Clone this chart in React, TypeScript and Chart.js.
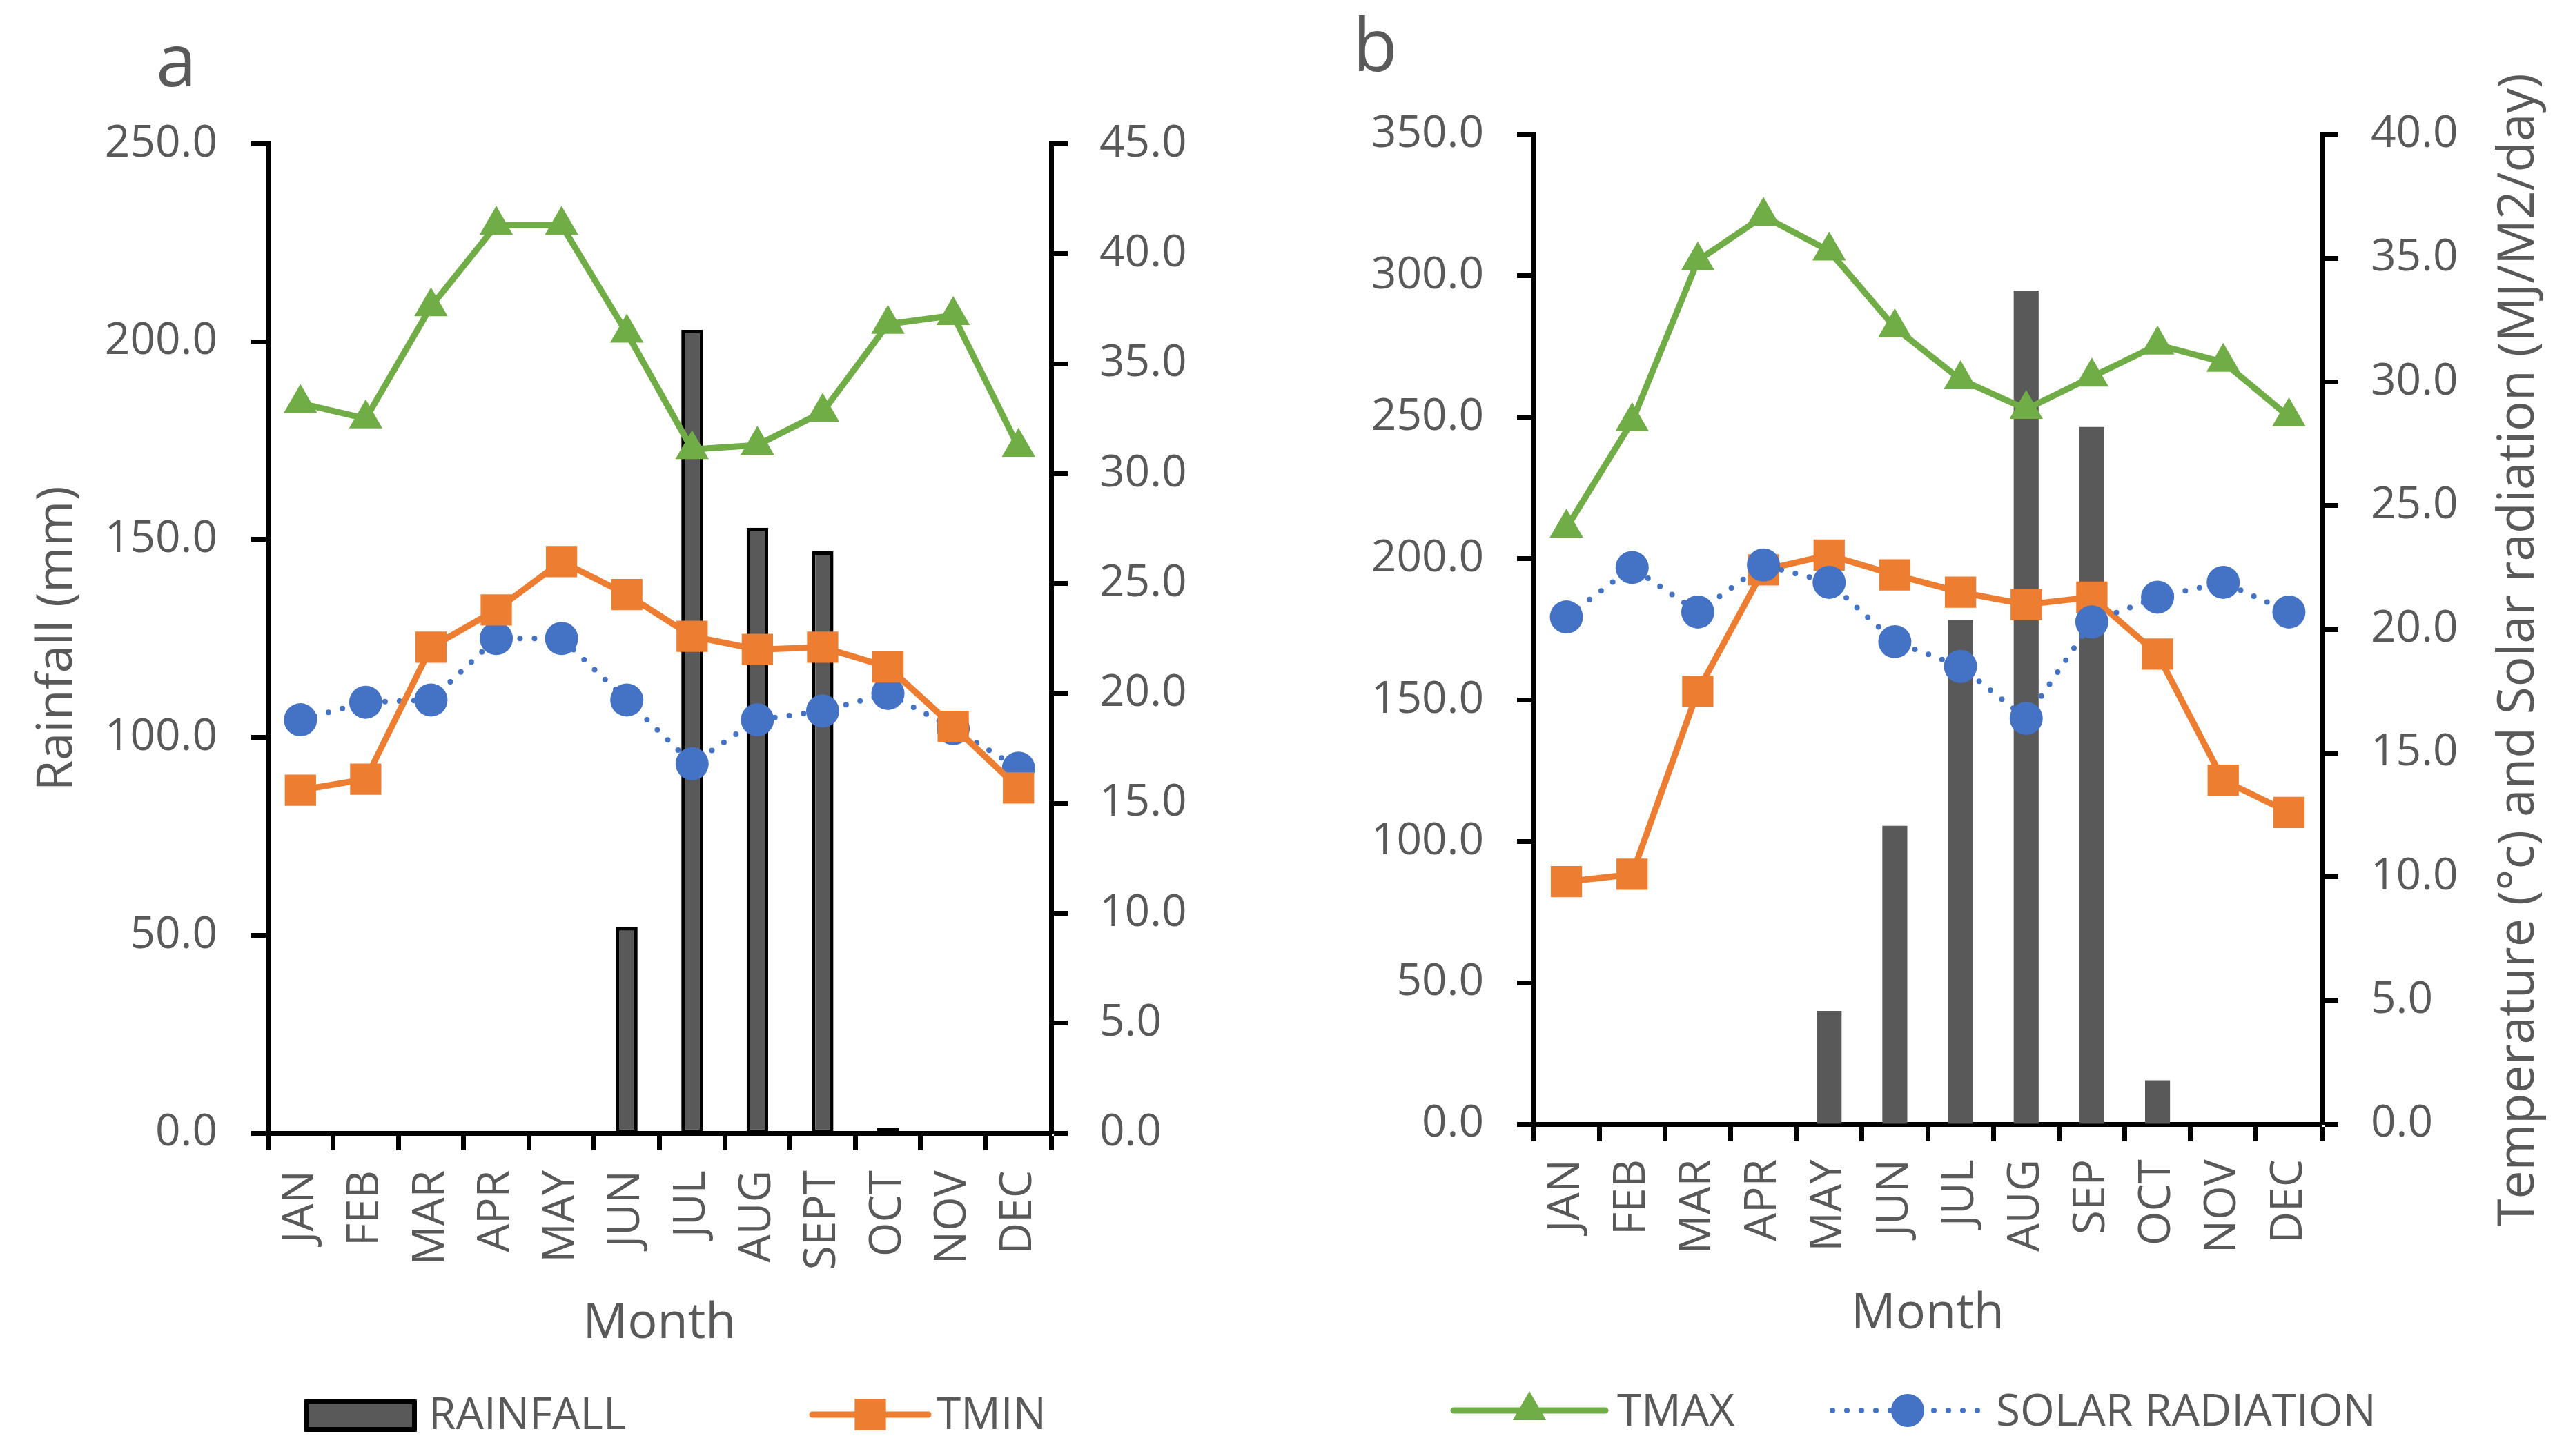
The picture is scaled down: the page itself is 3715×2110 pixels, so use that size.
import React, { useEffect, useRef } from "react";
import { Chart, registerables } from "chart.js";

Chart.register(...registerables);

// ---------------- DATA ----------------
const MONTHS_A = ["JAN", "FEB", "MAR", "APR", "MAY", "JUN", "JUL", "AUG", "SEPT", "OCT", "NOV", "DEC"];
const MONTHS_B = ["JAN", "FEB", "MAR", "APR", "MAY", "JUN", "JUL", "AUG", "SEP", "OCT", "NOV", "DEC"];

const RAINFALL_A = [0, 0, 0, 0, 0.5, 52, 203, 153, 147, 1.3, 0, 0];
const TMAX_A = [33.2, 32.5, 37.6, 41.3, 41.3, 36.4, 31.1, 31.3, 32.8, 36.8, 37.2, 31.2];
const TMIN_A = [15.6, 16.1, 22.1, 23.8, 26.0, 24.5, 22.6, 22.0, 22.1, 21.2, 18.5, 15.7];
const SOLAR_A = [18.8, 19.6, 19.7, 22.5, 22.5, 19.7, 16.8, 18.8, 19.2, 20.0, 18.4, 16.6];

const RAINFALL_B = [0, 0, 0, 0, 40, 105.5, 178.3, 294.8, 246.6, 15.5, 0, 0];
const TMAX_B = [24.1, 28.4, 34.9, 36.7, 35.3, 32.2, 30.1, 28.9, 30.2, 31.5, 30.8, 28.6];
const TMIN_B = [9.8, 10.1, 17.5, 22.4, 23.0, 22.2, 21.5, 21.0, 21.3, 19.0, 13.9, 12.6];
const SOLAR_B = [20.5, 22.5, 20.7, 22.6, 21.9, 19.5, 18.5, 16.4, 20.3, 21.3, 21.9, 20.7];

const SERIES_NAMES = ["RAINFALL", "TMIN", "TMAX", "SOLAR RADIATION"];
const AXIS_A = { leftMax: 250, leftStep: 50, rightMax: 45, rightStep: 5 };
const AXIS_B = { leftMax: 350, leftStep: 50, rightMax: 40, rightStep: 5 };

const TITLE_X = "Month";
const TITLE_LEFT_A = "Rainfall (mm)";
const TITLE_RIGHT_B = "Temperature (\u00b0c) and Solar radiation (MJ/M2/day)";

// ---------------- STYLE ----------------
const GRAY = "#595959";
const FONT = "'Open Sans', 'Noto Sans', 'DejaVu Sans', sans-serif";
const GREEN = "#70AD47";
const ORANGE = "#ED7D31";
const BLUE = "#4472C4";
const BAR = "#595959";
const H = 2110;

function drawMarker(ctx: CanvasRenderingContext2D, style: string, x: number, y: number, r: number, color: string) {
  ctx.fillStyle = color;
  ctx.beginPath();
  if (style === "rect") {
    const s = r * Math.SQRT1_2;
    ctx.rect(x - s, y - s, 2 * s, 2 * s);
  } else if (style === "triangle") {
    let rad = 0;
    ctx.moveTo(x + Math.sin(rad) * r, y - Math.cos(rad) * r);
    rad += (2 * Math.PI) / 3;
    ctx.lineTo(x + Math.sin(rad) * r, y - Math.cos(rad) * r);
    rad += (2 * Math.PI) / 3;
    ctx.lineTo(x + Math.sin(rad) * r, y - Math.cos(rad) * r);
    ctx.closePath();
  } else {
    ctx.arc(x, y, r, 0, Math.PI * 2);
  }
  ctx.fill();
}

const overlayPlugin = {
  id: "overlay",
  afterDraw(chart: any, _args: any, opts: any) {
    const ctx: CanvasRenderingContext2D = chart.ctx;
    ctx.save();
    // panel letter
    ctx.fillStyle = GRAY;
    ctx.font = `${opts.letterSize}px ${FONT}`;
    ctx.textAlign = "left";
    ctx.textBaseline = "alphabetic";
    ctx.fillText(opts.letter, opts.letterX, opts.letterY);

    // right-hand axis title (reads bottom to top)
    if (opts.rightTitle) {
      ctx.save();
      ctx.translate(opts.rightTitleX, opts.rightTitleY);
      ctx.rotate(-Math.PI / 2);
      ctx.textAlign = "center";
      ctx.textBaseline = "middle";
      ctx.font = `73px ${FONT}`;
      ctx.fillStyle = GRAY;
      ctx.fillText(opts.rightTitle, 0, 0);
      ctx.restore();
    }

    // legend
    for (const item of opts.legend) {
      const ds = chart.data.datasets[item.index];
      if (item.kind === "box") {
        ctx.fillStyle = ds.backgroundColor;
        ctx.fillRect(item.x1, item.y1, item.x2 - item.x1, item.y2 - item.y1);
        ctx.strokeStyle = ds.borderColor;
        ctx.lineWidth = 7;
        ctx.lineJoin = "round";
        ctx.strokeRect(item.x1 + 3.5, item.y1 + 3.5, item.x2 - item.x1 - 7, item.y2 - item.y1 - 7);
      } else {
        ctx.save();
        ctx.strokeStyle = ds.borderColor;
        ctx.lineWidth = ds.borderWidth;
        ctx.lineCap = "round";
        ctx.setLineDash(ds.borderDash || []);
        ctx.beginPath();
        ctx.moveTo(item.x1, item.y);
        ctx.lineTo(item.x2, item.y);
        ctx.stroke();
        ctx.restore();
        drawMarker(ctx, ds.pointStyle, item.mx, item.y, ds.pointRadius, ds.pointBackgroundColor);
      }
      ctx.fillStyle = GRAY;
      ctx.font = `64px ${FONT}`;
      ctx.textAlign = "left";
      ctx.textBaseline = "alphabetic";
      ctx.fillText(ds.label, item.tx, item.ty);
    }
    ctx.restore();
  },
};

function lineDs(label: string, data: number[], color: string, style: string, r: number, order: number, dotted = false) {
  return {
    type: "line",
    label,
    data,
    yAxisID: "y1",
    borderColor: color,
    backgroundColor: color,
    pointBackgroundColor: color,
    pointBorderColor: color,
    borderWidth: dotted ? 8 : 9,
    borderDash: dotted ? [0, 21] : [],
    borderCapStyle: "round",
    borderJoinStyle: "round",
    pointStyle: style,
    pointRadius: r,
    pointHoverRadius: r,
    pointBorderWidth: 0,
    tension: 0,
    fill: false,
    clip: false,
    order,
  };
}

const tickFont = { family: FONT, size: 64 };
const titleFont = { family: FONT, size: 72 };

function yAxis(position: string, max: number, step: number, width: number, padding: number, title?: string) {
  return {
    position,
    min: 0,
    max,
    afterFit: (s: any) => {
      s.width = width;
    },
    grid: { drawOnChartArea: false, drawTicks: true, tickLength: 24, tickWidth: 7, tickColor: "#000" },
    border: { display: true, color: "#000", width: 7 },
    ticks: {
      stepSize: step,
      padding,
      color: GRAY,
      font: tickFont,
      callback: (v: any) => Number(v).toFixed(1),
    },
    title: title
      ? { display: true, text: title, color: GRAY, font: titleFont, padding: { top: 40, bottom: 0 } }
      : { display: false },
  };
}

function xAxis(height: number, labelPad: number, titlePad: number) {
  return {
    type: "category",
    offset: true,
    afterFit: (s: any) => {
      s.height = height;
    },
    grid: { offset: true, drawOnChartArea: false, drawTicks: true, tickLength: 25, tickWidth: 7, tickColor: "#000" },
    border: { display: true, color: "#000", width: 7 },
    ticks: { autoSkip: false, minRotation: 90, maxRotation: 90, padding: labelPad, color: GRAY, font: tickFont },
    title: { display: true, text: TITLE_X, color: GRAY, font: titleFont, padding: { top: 0, bottom: titlePad } },
  };
}

function configA(): any {
  return {
    data: {
      labels: MONTHS_A,
      datasets: [
        {
          type: "bar",
          label: SERIES_NAMES[0],
          data: RAINFALL_A,
          yAxisID: "y",
          backgroundColor: BAR,
          borderColor: "#000",
          borderWidth: 5,
          borderSkipped: false,
          barPercentage: 0.33,
          categoryPercentage: 1,
          order: 10,
        },
        lineDs(SERIES_NAMES[1], TMIN_A, ORANGE, "rect", 32, 1),
        lineDs(SERIES_NAMES[2], TMAX_A, GREEN, "triangle", 28, 2),
        lineDs(SERIES_NAMES[3], SOLAR_A, BLUE, "circle", 24, 3, true),
      ],
    },
    options: {
      animation: false,
      responsive: false,
      devicePixelRatio: 1,
      layout: { padding: { left: 0, right: 0, top: 208.5, bottom: 140 } },
      scales: {
        x: xAxis(328, 29, 8),
        y: yAxis("left", AXIS_A.leftMax, AXIS_A.leftStep, 388, 49, TITLE_LEFT_A),
        y1: yAxis("right", AXIS_A.rightMax, AXIS_A.rightStep, 277, 46),
      },
      plugins: {
        legend: { display: false },
        tooltip: { enabled: false },
        overlay: {
          letter: "a",
          letterSize: 106,
          letterX: 226,
          letterY: 125,
          legend: [
            { kind: "box", index: 0, x1: 440, x2: 604, y1: 2028, y2: 2075, tx: 621, ty: 2071 },
            { kind: "line", index: 1, x1: 1177, x2: 1345, mx: 1261, y: 2050, tx: 1357, ty: 2071 },
          ],
        },
      },
    },
    plugins: [overlayPlugin],
  };
}

function configB(): any {
  return {
    data: {
      labels: MONTHS_B,
      datasets: [
        {
          type: "bar",
          label: SERIES_NAMES[0],
          data: RAINFALL_B,
          yAxisID: "y",
          backgroundColor: BAR,
          borderWidth: 0,
          barPercentage: 0.38,
          categoryPercentage: 1,
          order: 10,
        },
        lineDs(SERIES_NAMES[1], TMIN_B, ORANGE, "rect", 32, 3),
        lineDs(SERIES_NAMES[2], TMAX_B, GREEN, "triangle", 28, 2),
        lineDs(SERIES_NAMES[3], SOLAR_B, BLUE, "circle", 24, 1, true),
      ],
    },
    options: {
      animation: false,
      responsive: false,
      devicePixelRatio: 1,
      layout: { padding: { left: 0, right: 0, top: 195, bottom: 150 } },
      scales: {
        x: xAxis(331, 26, 12),
        y: yAxis("left", AXIS_B.leftMax, AXIS_B.leftStep, 422, 48),
        y1: yAxis("right", AXIS_B.rightMax, AXIS_B.rightStep, 351, 47),
      },
      plugins: {
        legend: { display: false },
        tooltip: { enabled: false },
        overlay: {
          letter: "b",
          letterSize: 106,
          letterX: 160,
          letterY: 103,
          rightTitle: TITLE_RIGHT_B,
          rightTitleX: 1850,
          rightTitleY: 942,
          legend: [
            { kind: "line", index: 2, x1: 306, x2: 526, mx: 416, y: 2044, tx: 543, ty: 2066 },
            { kind: "line", index: 3, x1: 855, x2: 1071, mx: 964, y: 2044, tx: 1092, ty: 2066 },
          ],
        },
      },
    },
    plugins: [overlayPlugin],
  };
}

function Panel({ make, left, width }: { make: () => any; left: number; width: number }) {
  const ref = useRef<HTMLCanvasElement>(null);
  useEffect(() => {
    const chart = new Chart(ref.current as HTMLCanvasElement, make());
    return () => chart.destroy();
  }, []);
  return (
    <canvas
      ref={ref}
      width={width}
      height={H}
      style={{ position: "absolute", left, top: 0, width, height: H, display: "block" }}
    />
  );
}

export default function App() {
  return (
    <div style={{ position: "fixed", left: 0, top: 0, width: 3715, height: H, background: "#fff", overflow: "hidden" }}>
      <Panel make={configA} left={0} width={1800} />
      <Panel make={configB} left={1800} width={1915} />
    </div>
  );
}
